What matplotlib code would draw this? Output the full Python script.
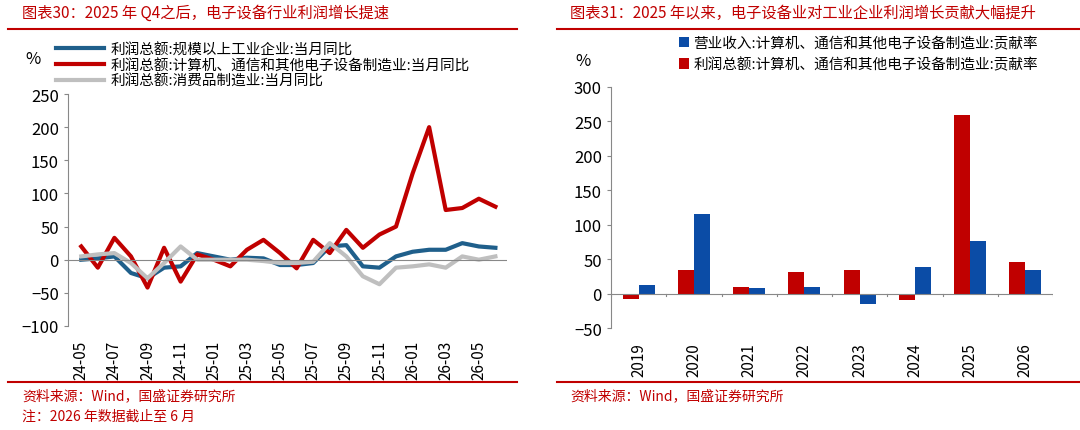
import matplotlib
matplotlib.use("Agg")
import matplotlib.pyplot as plt
import numpy as np

plt.rcParams['font.family'] = ['Noto Sans CJK SC', 'DejaVu Sans']

months = ['24-05','24-06','24-07','24-08','24-09','24-10','24-11','24-12','25-01','25-02','25-03','25-04','25-05',
          '25-06','25-07','25-08','25-09','25-10','25-11','25-12','26-01','26-02','26-03','26-04','26-05','26-06']
red_line = [20,-12,33,5,-42,18,-33,8,0,-10,15,30,10,-13,30,10,45,18,38,50,130,200,75,78,92,80]
blue_line = [0,2,5,-20,-28,-12,-10,10,5,0,3,2,-8,-8,-5,20,22,-10,-12,5,12,15,15,25,20,18]
gray_line = [5,8,10,-5,-28,-5,20,0,0,0,0,-2,-5,-5,-3,25,5,-25,-37,-12,-10,-7,-12,5,0,5]

years = ['2019','2020','2021','2022','2023','2024','2025','2026']
rev_contrib = [12,115,8,10,-15,39,76,34]
profit_contrib = [-8,34,10,31,34,-9,260,46]

RED = '#C00000'; BLUE = '#1F5F8B'; GRAY = '#BFBFBF'
W, H = 1080, 431
fig = plt.figure(figsize=(W/100, H/100), dpi=100)

def fx(px): return px / W
def fy(py): return 1 - py / H

fig.text(fx(22), fy(13), '图表30：2025 年 Q4之后，电子设备行业利润增长提速', color=RED, fontsize=11,
         style='italic', va='center', ha='left')
fig.text(fx(570), fy(13), '图表31：2025 年以来，电子设备业对工业企业利润增长贡献大幅提升', color=RED, fontsize=11,
         style='italic', va='center', ha='left')
for x0, x1 in [(8, 517), (557, 1080)]:
    fig.add_artist(plt.Line2D([fx(x0), fx(x1)], [fy(30), fy(30)], color=RED, lw=1.5))
    fig.add_artist(plt.Line2D([fx(x0), fx(x1)], [fy(383), fy(383)], color=RED, lw=1.5))
fig.text(fx(22), fy(396), '资料来源：Wind，国盛证券研究所', color=RED, fontsize=10, style='italic', va='center')
fig.text(fx(22), fy(417), '注：2026 年数据截止至 6 月', color=RED, fontsize=10, style='italic', va='center')
fig.text(fx(570), fy(396), '资料来源：Wind，国盛证券研究所', color=RED, fontsize=10, style='italic', va='center')

# Left chart
ax1 = fig.add_axes([fx(68), fy(327), fx(507-68), (327-95)/H])
x = np.arange(len(months))
ax1.plot(x, blue_line, color=BLUE, lw=3, solid_joinstyle='round', label='利润总额:规模以上工业企业:当月同比')
ax1.plot(x, red_line, color=RED, lw=3, solid_joinstyle='round', label='利润总额:计算机、通信和其他电子设备制造业:当月同比')
ax1.plot(x, gray_line, color=GRAY, lw=3, solid_joinstyle='round', label='利润总额:消费品制造业:当月同比')
ax1.set_ylim(-100, 250)
ax1.set_yticks(range(-100, 251, 50))
ax1.set_xlim(-0.8, len(months) - 0.3)
ax1.set_xticks(x[::2])
ax1.set_xticklabels(months[::2], rotation=90, fontsize=11)
ax1.axhline(0, color='#888888', lw=0.8)
ax1.tick_params(axis='y', labelsize=12, length=3, color='#888888')
ax1.tick_params(axis='x', length=0, pad=10)
for s in ['top', 'right', 'bottom']:
    ax1.spines[s].set_visible(False)
ax1.spines['left'].set_color('#888888')
ax1.spines['left'].set_linewidth(0.8)
ax1.legend(loc='lower left', bbox_to_anchor=(-0.04, 1.0), frameon=False, fontsize=10.5,
           handlelength=3.3, handletextpad=0.4, labelspacing=0.12, borderaxespad=0)
fig.text(fx(25), fy(60), '%', fontsize=12, va='center')

# Right chart
ax2 = fig.add_axes([fx(611), fy(329), fx(1053-611), (329-88)/H])
xb = np.arange(len(years))
bw = 0.29
ax2.bar(xb - bw/2, profit_contrib, bw, color=RED, label='利润总额:计算机、通信和其他电子设备制造业:贡献率')
ax2.bar(xb + bw/2, rev_contrib, bw, color='#0B4CA6', label='营业收入:计算机、通信和其他电子设备制造业:贡献率')
ax2.set_ylim(-50, 300)
ax2.set_yticks(range(-50, 301, 50))
ax2.set_xlim(-0.5, len(years) - 0.5)
ax2.set_xticks(xb)
ax2.set_xticklabels(years, rotation=90, fontsize=11)
ax2.axhline(0, color='#888888', lw=0.8)
for xv in np.arange(-0.5, len(years), 1.0):
    ax2.plot([xv, xv], [0, -3], color='#888888', lw=0.8)
ax2.tick_params(axis='y', labelsize=12, length=3, color='#888888')
ax2.tick_params(axis='x', length=0, pad=10)
for s in ['top', 'right', 'bottom']:
    ax2.spines[s].set_visible(False)
ax2.spines['left'].set_color('#888888')
ax2.spines['left'].set_linewidth(0.8)
h, l = ax2.get_legend_handles_labels()
ax2.legend(h[::-1], l[::-1], loc='lower left', bbox_to_anchor=(0.14, 1.04), frameon=False, fontsize=10.5,
           handlelength=0.7, handleheight=0.7, handletextpad=0.3, labelspacing=0.45, borderaxespad=0)
fig.text(fx(575), fy(62), '%', fontsize=12, va='center')

fig.savefig('out.png', dpi=100)
